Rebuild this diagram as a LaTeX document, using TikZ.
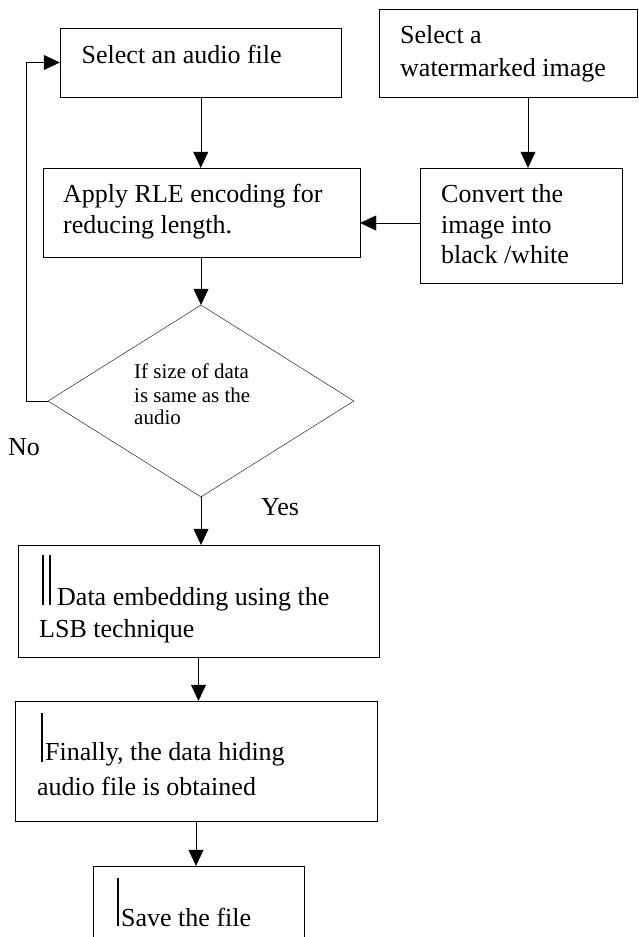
\documentclass[tikz,border=0pt]{standalone}
\usepackage{fontspec}
\setmainfont{Liberation Serif}
\usetikzlibrary{arrows.meta,shapes.geometric}
\tikzset{
x=1pt, y=-1pt,
line width=1.6pt,
>={Triangle[length=16pt,width=15pt]},
box/.style={draw,rectangle,inner sep=0pt},
decision/.style={draw,diamond,inner sep=0pt,minimum width=306pt,minimum height=192pt},
txt/.style={anchor=base west,inner sep=0pt,font=\fontsize{26}{31}\selectfont},
smalltxt/.style={txt,font=\fontsize{21}{24}\selectfont},
cursor/.style={line width=1.1pt}
}
\begin{document}
\begin{tikzpicture}
\useasboundingbox (0,0) rectangle (639,937);

% boxes
\node[box,minimum width=281.5pt,minimum height=69pt]  (audio) at (200.75,62.5) {};
\node[box,minimum width=258pt,minimum height=88pt]    (mark)  at (508,53)      {};
\node[box,minimum width=317pt,minimum height=89pt]    (rle)   at (201.5,212.5) {};
\node[box,minimum width=202pt,minimum height=115pt]   (conv)  at (521,225.5)   {};
\node[decision]                                       (check) at (201,401)     {};
\node[box,minimum width=361pt,minimum height=112pt]   (data)  at (198.5,601)   {};
\node[box,minimum width=362pt,minimum height=120pt]   (final) at (196,761)     {};
\node[box,minimum width=211pt,minimum height=100pt]   (save)  at (198.5,916)   {};

% texts
\node[txt] (audio1) at (81.5,63) {Select an audio file};
\node[txt] (mark1)  at (400,43)  {Select a};
\node[txt] (mark2)  at (400,76)  {watermarked image};
\node[txt] (rle1)   at (63,202)  {Apply RLE encoding for};
\node[txt] (rle2)   at (63,233)  {reducing length.};
\node[txt] (conv1)  at (441,202) {Convert the};
\node[txt] (conv2)  at (441,233) {image into};
\node[txt] (conv3)  at (441,263) {black /white};
\node[smalltxt] (check1) at (134,378) {If size of data};
\node[smalltxt] (check2) at (134,402) {is same as the};
\node[smalltxt] (check3) at (134,424) {audio};
\node[txt] (no)     at (8,455)   {No};
\node[txt] (yes)    at (261,515) {Yes};
\node[txt] (data1)  at (57,605)  {Data embedding using the};
\node[txt] (data2)  at (39,637)  {LSB technique};
\node[txt] (final1) at (45,760)  {Finally, the data hiding};
\node[txt] (final2) at (37,795)  {audio file is obtained};
\node[txt] (save1)  at (121,926) {Save the file};

% cursor marks
\draw[cursor] (43,555) -- (43,605) (50,555) -- (50,605);
\draw[cursor] (42,713) -- (42,762);
\draw[cursor] (118,878) -- (118,926);

% arrows
\draw[->] (audio.south) -- (audio.south |- rle.north);
\draw[->] ([xshift=20pt]mark.south) -- ([xshift=20pt]mark.south |- conv.north);
\draw[->] ([yshift=2.5pt]conv.west) -- ([yshift=2.5pt]conv.west -| rle.east);
\draw[->] (rle.south -| check.north) -- (check.north);
\draw[->] (check.west) -- ++(-22,0) |- (audio.west);
\draw[->] (check.south) -- (check.south |- data.north);
\draw[->] (data.south) -- (data.south |- final.north);
\draw[->] (final.south) -- (final.south |- save.north);
\end{tikzpicture}
\end{document}
